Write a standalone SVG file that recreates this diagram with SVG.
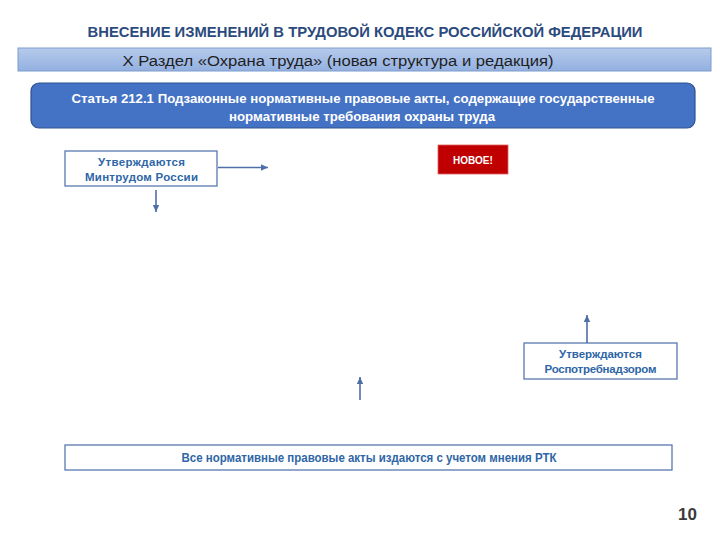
<svg xmlns="http://www.w3.org/2000/svg" width="720" height="540" viewBox="0 0 720 540">
<defs>
<linearGradient id="bar" x1="0" y1="0" x2="0" y2="1">
<stop offset="0" stop-color="#B6CBEC"/>
<stop offset="1" stop-color="#93B0E0"/>
</linearGradient>
<marker id="ah" markerWidth="8" markerHeight="8" refX="7" refY="4" orient="auto" markerUnits="userSpaceOnUse">
<path d="M0,0.8 L7,4 L0,7.2 Z" fill="#4F6FA8"/>
</marker>
</defs>
<style>
.t{font-family:"Liberation Sans",Arial,sans-serif}
.b{font-weight:bold}
.node{fill:#FFFFFF;stroke:#5A78B0;stroke-width:1.3}
.nt{font-family:"Liberation Sans",Arial,sans-serif;font-weight:bold;font-size:11.5px;fill:#2E66A6;text-anchor:middle}
.conn{stroke:#4F6FA8;stroke-width:1.6;fill:none;marker-end:url(#ah)}
</style>
<rect width="720" height="540" fill="#FFFFFF"/>
<text class="t b" x="365" y="37" font-size="15.5" fill="#2B4A7E" text-anchor="middle" textLength="555" lengthAdjust="spacingAndGlyphs">ВНЕСЕНИЕ ИЗМЕНЕНИЙ В ТРУДОВОЙ КОДЕКС РОССИЙСКОЙ ФЕДЕРАЦИИ</text>
<g id="section">
<rect x="18" y="48" width="693" height="23" fill="url(#bar)" stroke="#7F9CCD" stroke-width="1"/>
<text class="t" x="338" y="65.5" font-size="15.5" fill="#1F1F1F" text-anchor="middle" textLength="431" lengthAdjust="spacingAndGlyphs">X Раздел «Охрана труда» (новая структура и редакция)</text>
</g>
<g id="article">
<rect x="31" y="83" width="664" height="45" rx="8" fill="#4472C4" stroke="#2F528F" stroke-width="1.2"/>
<text class="t b" x="363" y="103" font-size="13" fill="#FFFFFF" text-anchor="middle" textLength="583" lengthAdjust="spacingAndGlyphs">Статья 212.1 Подзаконные нормативные правовые акты, содержащие государственные</text>
<text class="t b" x="362" y="121" font-size="13" fill="#FFFFFF" text-anchor="middle" textLength="266" lengthAdjust="spacingAndGlyphs">нормативные требования охраны труда</text>
</g>
<g id="mintrud">
<rect class="node" x="65" y="151" width="152" height="35"/>
<text class="nt" x="141.5" y="166" textLength="87" lengthAdjust="spacing">Утверждаются</text>
<text class="nt" x="141.5" y="181" textLength="113" lengthAdjust="spacing">Минтрудом России</text>
</g>
<g id="new">
<rect x="438" y="145" width="70" height="29" fill="#C00000" stroke="#E06060" stroke-width="0.8"/>
<text class="t b" x="473" y="163.5" font-size="10" fill="#FFFFFF" text-anchor="middle">НОВОЕ!</text>
</g>
<g id="rospotreb">
<rect class="node" x="524" y="343" width="153" height="36"/>
<text class="nt" x="600.5" y="358">Утверждаются</text>
<text class="nt" x="600.5" y="373" textLength="112" lengthAdjust="spacing">Роспотребнадзором</text>
</g>
<g id="rtk">
<rect class="node" x="65" y="445" width="607" height="25"/>
<text class="t b" x="369" y="462" font-size="12" fill="#2E66A6" text-anchor="middle" textLength="375" lengthAdjust="spacingAndGlyphs">Все нормативные правовые акты издаются с учетом мнения РТК</text>
</g>
<g id="connectors">
<line class="conn" x1="218" y1="167.5" x2="268" y2="167.5"/>
<line class="conn" x1="156" y1="190" x2="156" y2="212"/>
<line class="conn" x1="587" y1="343" x2="587" y2="315"/>
<line class="conn" x1="360" y1="400" x2="360" y2="377"/>
</g>
<text class="t b" x="697" y="520" font-size="17" fill="#3A3A3A" text-anchor="end">10</text>
</svg>
